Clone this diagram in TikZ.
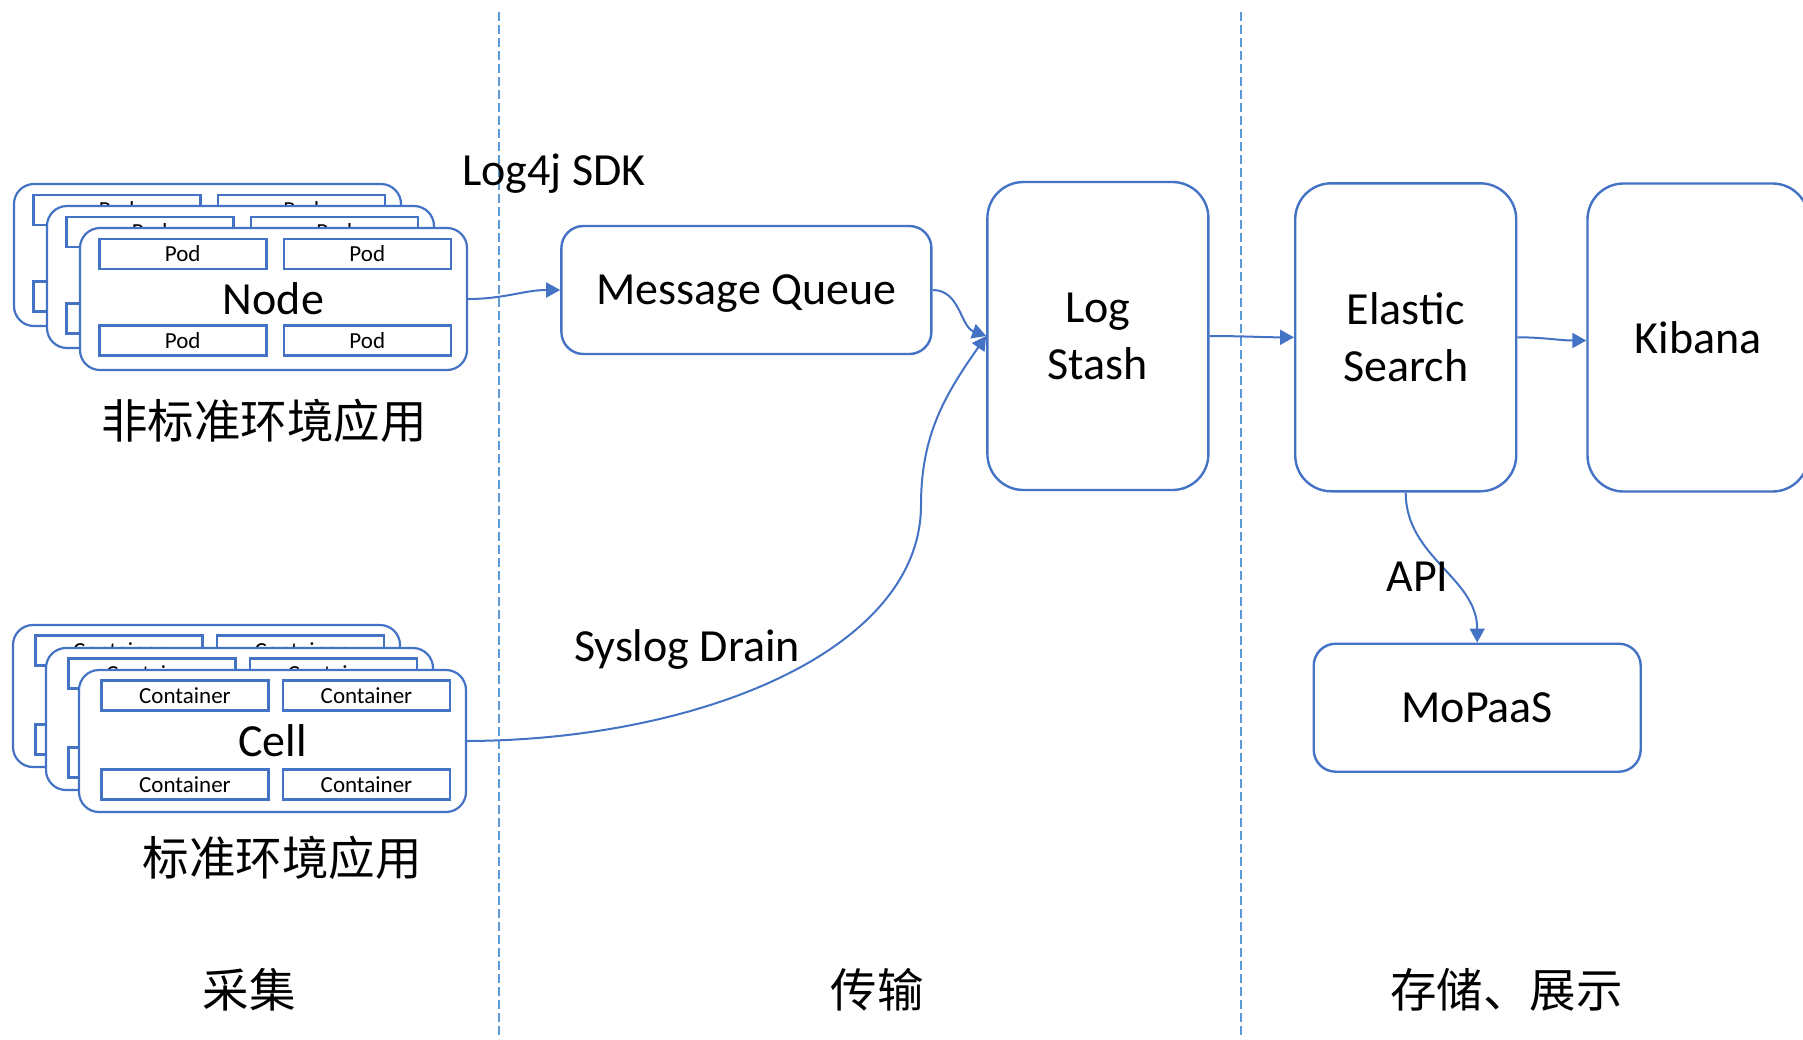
\documentclass[tikz,border=0pt]{standalone}
\usepackage{fontspec}
\setmainfont{Carlito}
\newfontfamily\cjk{Noto Sans CJK SC}
\usetikzlibrary{arrows.meta,positioning,calc}
\definecolor{boxblue}{HTML}{4472C4}
\definecolor{laneblue}{HTML}{5B9BD5}
\tikzset{x=1pt, y=1pt, % One unit is one pixel of the layout
        block/.style={ % Rounded boxes of the pipeline
            draw=boxblue, line width=2.4pt, fill=white,
            rounded corners=22pt, align=center,
            font=\fontsize{46}{57}\selectfont},
        tall/.style={block, minimum width=221pt, minimum height=308pt,
            rounded corners=36pt},
        host/.style={block, minimum width=387pt, minimum height=142pt,
            rounded corners=20pt, line width=2.2pt},
        slot/.style={ % Pods and containers inside a host
            draw=boxblue, line width=2.6pt,
            minimum width=167pt, minimum height=30pt,
            font=\fontsize{23}{25}\selectfont},
        lbl/.style={inner sep=0pt, font=\fontsize{46}{50}\selectfont},
        zh/.style={inner sep=0pt, font=\cjk\fontsize{46.5}{50}\selectfont},
        lane/.style={draw=laneblue, line width=1.3pt, dash pattern=on 9pt off 4pt},
        link/.style={draw=boxblue, line width=2pt,
            -{Triangle[length=14pt,width=15pt]}},
        every edge/.style={link} % Sets the properties for each transition
        }

\begin{document}
\begin{tikzpicture}
    \useasboundingbox (0,0) rectangle (1803,-1039);
    \clip (0,0) rectangle (1803,-1039);

    % stage borders
    \draw[lane] (499,-12) -- (499,-1039);
    \draw[lane] (1241,-12) -- (1241,-1039);

    % non-standard hosts, three deep
    \foreach \k/\dx/\dy in {2/-66/44, 1/-33/22, 0/0/0}{
        \begin{scope}[shift={(\dx,\dy)}]
            \node[host] (vm\k) at (273.5,-299) {Node};
            \node[slot] (vm\k a) at (182.7,-254) {Pod};
            \node[slot] (vm\k b) at (367.3,-254) {Pod};
            \node[slot] (vm\k c) at (182.7,-340.3) {Pod};
            \node[slot] (vm\k d) at (367.3,-340.3) {Pod};
        \end{scope}
    }

    % standard hosts, three deep
    \foreach \k/\dx/\dy in {2/-66/45, 1/-33/22, 0/0/0}{
        \begin{scope}[shift={(\dx,\dy)}]
            \node[host] (cell\k) at (272.5,-741) {Cell};
            \node[slot] (cell\k a) at (185,-695.7) {Container};
            \node[slot] (cell\k b) at (366.5,-695.7) {Container};
            \node[slot] (cell\k c) at (185,-784.7) {Container};
            \node[slot] (cell\k d) at (366.5,-784.7) {Container};
        \end{scope}
    }

    \node[block, minimum width=370pt, minimum height=128pt, text depth=0pt] (mq) at (746.4,-290) {Message Queue};
    \node[tall] (logstash) at (1097.9,-336) {Log\\Stash};
    \node[tall] (elastic) at (1405.7,-337.3) {Elastic\\Search};
    \node[tall] (kibana) at (1698,-337.5) {Kibana};
    \node[block, minimum width=327pt, minimum height=128pt] (mopaas) at (1477.2,-707.7) {MoPaaS};

    \draw (vm0.east) edge[out=0,in=180] (mq.west);
    \draw (mq.east) edge[out=0,in=160] (logstash.west);
    \draw (logstash.east) edge[out=0,in=180] (elastic.west);
    \draw (elastic.east) edge[out=0,in=180] ([yshift=-3pt]kibana.west);
    \draw (elastic.south) edge[out=-90,in=90] (mopaas.north);

    % syslog drain goes round a bend
    \coordinate (bend) at (921,-505);
    \draw[link] (cell0.east) .. controls (700,-740) and (921,-650) .. (bend)
        to[out=90,in=235] (logstash.west);

    \node[lbl, anchor=base] (sdk) at (554,-185) {Log4j SDK};
    \node[lbl, anchor=base] (syslog) at (687,-661) {Syslog Drain};
    \node[lbl, anchor=base] (api) at (1417.5,-591) {API};

    \node[zh] (nonstd) at (264,-421) {非标准环境应用};
    \node[zh] (std) at (282,-857.5) {标准环境应用};
    \node[zh] (collect) at (249,-990) {采集};
    \node[zh] (transfer) at (877,-990) {传输};
    \node[zh] (store) at (1506.5,-990) {存储、展示};
\end{tikzpicture}
\end{document}
